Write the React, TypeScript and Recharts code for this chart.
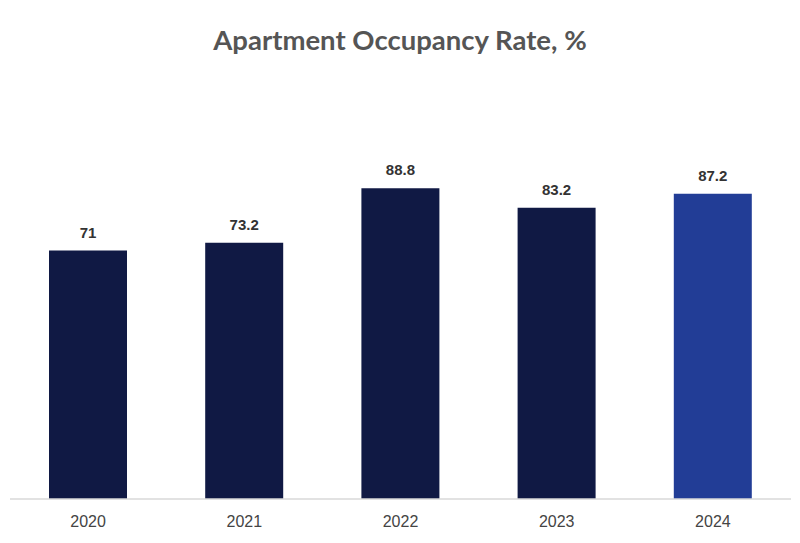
import { BarChart, Bar, XAxis, YAxis, Cell, LabelList } from "recharts";

const years = ["2020", "2021", "2022", "2023", "2024"];
const occupancy = [71, 73.2, 88.8, 83.2, 87.2];
const barColors = ["#101944", "#101944", "#101944", "#101944", "#223d96"];

const data = years.map((year, i) => ({ year, rate: occupancy[i] }));

export default function App() {
  return (
    <div style={{ position: "absolute", left: 0, top: 0, width: 800, height: 543, background: "#fff" }}>
      <div
        style={{
          position: "absolute", left: 0, top: 23, width: 800, textAlign: "center",
          fontFamily: "Lato, sans-serif", fontWeight: 700, fontSize: 27.5, color: "#555555",
        }}
      >
        Apartment Occupancy Rate, %
      </div>
      <BarChart width={800} height={543} data={data} margin={{ top: 149, right: 9, left: 10, bottom: 0 }}>
        <XAxis
          dataKey="year"
          height={44}
          tickLine={false}
          tickMargin={11}
          axisLine={{ stroke: "#d9d9d9", strokeWidth: 1.5 }}
          tick={{ fill: "#444", fontSize: 16, fontFamily: "Liberation Sans, Arial, sans-serif" }}
        />
        <YAxis hide domain={[0, 100]} />
        <Bar dataKey="rate" barSize={78} isAnimationActive={false}>
          {data.map((d, i) => (
            <Cell key={d.year} fill={barColors[i]} />
          ))}
          <LabelList
            dataKey="rate"
            position="top"
            offset={13}
            fill="#333"
            fontSize={15}
            fontWeight={700}
            fontFamily="Liberation Sans, Arial, sans-serif"
          />
        </Bar>
      </BarChart>
    </div>
  );
}
